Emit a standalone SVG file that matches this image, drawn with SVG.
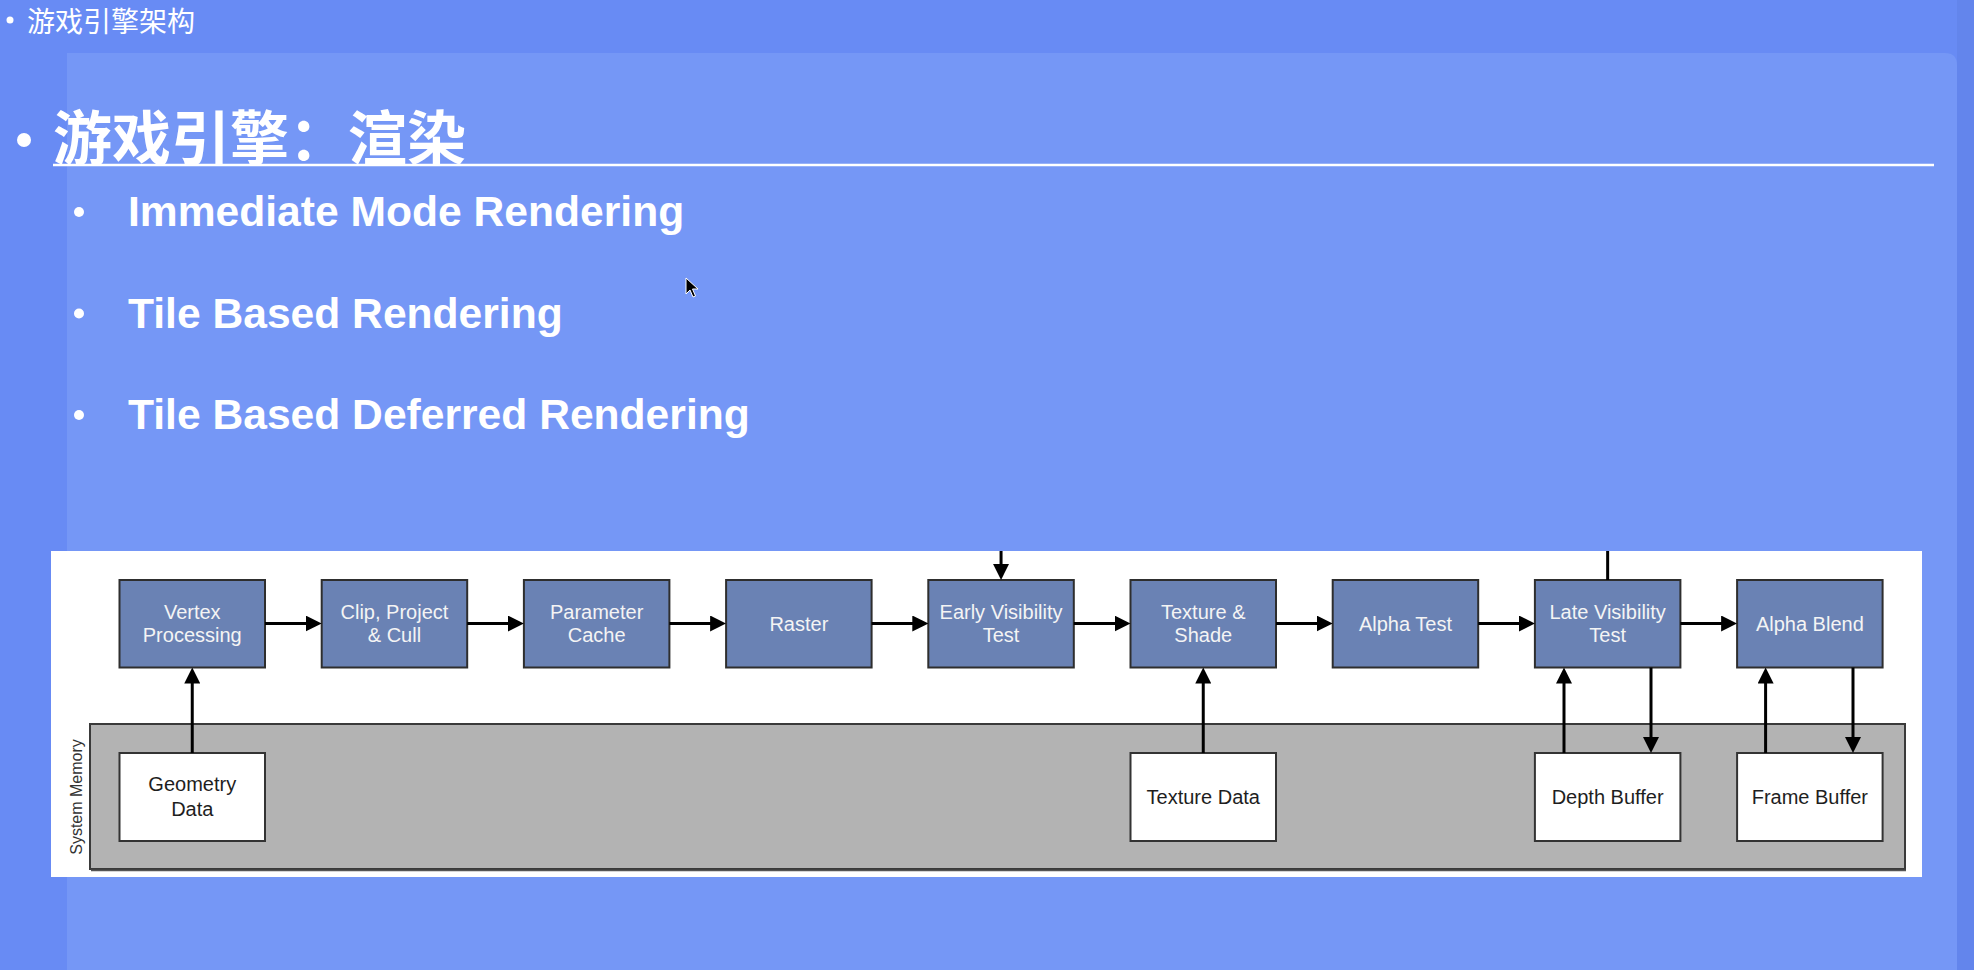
<svg xmlns="http://www.w3.org/2000/svg" width="1974" height="970" viewBox="0 0 1974 970">
  <defs>
    <marker id="arrow" viewBox="0 0 16 16" markerWidth="16" markerHeight="16" refX="5" refY="8" markerUnits="userSpaceOnUse" orient="auto">
      <path d="M0,0 L16,8 L0,16 Z" fill="#000"/>
    </marker>
    <style>
      .cjk { font-family: "Noto Sans CJK SC", "Noto Sans", sans-serif; fill: #ffffff; }
      .item { font-family: "Liberation Sans", Arial, sans-serif; font-weight: bold; font-size: 42.6px; fill: #ffffff; }
      .stage rect { fill: #6a82b4; stroke: #2e2e2e; stroke-width: 2; }
      .stage text { font-family: "Liberation Sans", Arial, sans-serif; font-size: 20px; fill: #f4f4f4; text-anchor: middle; }
      .store rect { fill: #ffffff; stroke: #333333; stroke-width: 2; }
      .store text { font-family: "Liberation Sans", Arial, sans-serif; font-size: 20px; fill: #1e1e1e; text-anchor: middle; }
      .link { stroke: #000; stroke-width: 3; fill: none; }
      .arrow { marker-end: url(#arrow); }
    </style>
  </defs>

  <!-- slide background -->
  <rect x="0" y="0" width="1974" height="970" fill="#688bf4"/>
  <path d="M67,53 H1945 Q1957,53 1957,65 V970 H67 Z" fill="#7597f6"/>
  <rect x="1957" y="0" width="17" height="970" fill="#6385ec"/>

  <!-- breadcrumb -->
  <circle cx="10" cy="20" r="3.5" fill="#ffffff"/>
  <text class="cjk" x="27" y="32" font-size="28">游戏引擎架构</text>

  <!-- slide title -->
  <line x1="53" y1="165" x2="1934" y2="165" stroke="#ffffff" stroke-width="2.5"/>
  <circle cx="24" cy="140" r="7" fill="#ffffff"/>
  <text class="cjk" x="53" y="160" font-size="59" font-weight="bold">游戏引擎：渲染</text>

  <!-- bullet list -->
  <g id="list">
    <circle cx="79" cy="212" r="5" fill="#ffffff"/>
    <text class="item" x="128" y="226">Immediate Mode Rendering</text>
    <circle cx="79" cy="313.5" r="5" fill="#ffffff"/>
    <text class="item" x="128" y="327.5">Tile Based Rendering</text>
    <circle cx="79" cy="415" r="5" fill="#ffffff"/>
    <text class="item" x="128" y="429">Tile Based Deferred Rendering</text>
  </g>

  <!-- mouse pointer -->
  <path d="M686,278 L686,294 L690,290 L693,297 L695.5,296 L692.5,289 L698,289 Z" fill="#000" stroke="#ffffff" stroke-width="1"/>

  <!-- pipeline figure -->
  <rect x="51" y="551" width="1871" height="326" fill="#ffffff"/>

  <g id="system-memory">
    <rect x="90" y="724" width="1815" height="145" fill="#b3b3b3" stroke="#3a3a3a" stroke-width="2"/>
    <line x1="91" y1="870.5" x2="1906" y2="870.5" stroke="#555" stroke-width="1.5"/>
    <text x="0" y="0" transform="translate(82,797) rotate(-90)" font-family="Liberation Sans, Arial, sans-serif" font-size="16" fill="#333" text-anchor="middle">System Memory</text>
  </g>

  <g id="vertex-processing" class="stage">
    <rect x="119.5" y="580" width="145.5" height="87.5"/>
    <text x="192.25" y="619">Vertex</text>
    <text x="192.25" y="642">Processing</text>
  </g>
  <g id="clip-project-cull" class="stage">
    <rect x="321.7" y="580" width="145.5" height="87.5"/>
    <text x="394.45" y="619">Clip, Project</text>
    <text x="394.45" y="642">&amp; Cull</text>
  </g>
  <g id="parameter-cache" class="stage">
    <rect x="523.9" y="580" width="145.5" height="87.5"/>
    <text x="596.65" y="619">Parameter</text>
    <text x="596.65" y="642">Cache</text>
  </g>
  <g id="raster" class="stage">
    <rect x="726.1" y="580" width="145.5" height="87.5"/>
    <text x="798.85" y="630.5">Raster</text>
  </g>
  <g id="early-visibility-test" class="stage">
    <rect x="928.3" y="580" width="145.5" height="87.5"/>
    <text x="1001.05" y="619">Early Visibility</text>
    <text x="1001.05" y="642">Test</text>
  </g>
  <g id="texture-shade" class="stage">
    <rect x="1130.5" y="580" width="145.5" height="87.5"/>
    <text x="1203.25" y="619">Texture &amp;</text>
    <text x="1203.25" y="642">Shade</text>
  </g>
  <g id="alpha-test" class="stage">
    <rect x="1332.7" y="580" width="145.5" height="87.5"/>
    <text x="1405.45" y="630.5">Alpha Test</text>
  </g>
  <g id="late-visibility-test" class="stage">
    <rect x="1534.9" y="580" width="145.5" height="87.5"/>
    <text x="1607.65" y="619">Late Visibility</text>
    <text x="1607.65" y="642">Test</text>
  </g>
  <g id="alpha-blend" class="stage">
    <rect x="1737.1" y="580" width="145.5" height="87.5"/>
    <text x="1809.85" y="630.5">Alpha Blend</text>
  </g>

  <g id="geometry-data" class="store">
    <rect x="119.5" y="753" width="145.5" height="88"/>
    <text x="192.25" y="791">Geometry</text>
    <text x="192.25" y="816">Data</text>
  </g>
  <g id="texture-data" class="store">
    <rect x="1130.5" y="753" width="145.5" height="88"/>
    <text x="1203.25" y="804">Texture Data</text>
  </g>
  <g id="depth-buffer" class="store">
    <rect x="1534.9" y="753" width="145.5" height="88"/>
    <text x="1607.65" y="804">Depth Buffer</text>
  </g>
  <g id="frame-buffer" class="store">
    <rect x="1737.1" y="753" width="145.5" height="88"/>
    <text x="1809.85" y="804">Frame Buffer</text>
  </g>

  <g id="connectors">
    <!-- stage to stage -->
    <line class="link arrow" x1="265" y1="623.5" x2="310.7" y2="623.5"/>
    <line class="link arrow" x1="467.2" y1="623.5" x2="512.9" y2="623.5"/>
    <line class="link arrow" x1="669.4" y1="623.5" x2="715.1" y2="623.5"/>
    <line class="link arrow" x1="871.6" y1="623.5" x2="917.3" y2="623.5"/>
    <line class="link arrow" x1="1073.8" y1="623.5" x2="1119.5" y2="623.5"/>
    <line class="link arrow" x1="1276" y1="623.5" x2="1321.7" y2="623.5"/>
    <line class="link arrow" x1="1478.2" y1="623.5" x2="1523.9" y2="623.5"/>
    <line class="link arrow" x1="1680.4" y1="623.5" x2="1726.1" y2="623.5"/>
    <!-- inputs from above -->
    <line class="link arrow" x1="1001.05" y1="551" x2="1001.05" y2="569"/>
    <line class="link" x1="1607.65" y1="551" x2="1607.65" y2="580"/>
    <!-- memory traffic -->
    <line class="link arrow" x1="192.25" y1="753" x2="192.25" y2="678.5"/>
    <line class="link arrow" x1="1203.25" y1="753" x2="1203.25" y2="678.5"/>
    <line class="link arrow" x1="1564" y1="753" x2="1564" y2="678.5"/>
    <line class="link arrow" x1="1651" y1="667.5" x2="1651" y2="742"/>
    <line class="link arrow" x1="1765.6" y1="753" x2="1765.6" y2="678.5"/>
    <line class="link arrow" x1="1853" y1="667.5" x2="1853" y2="742"/>
  </g>
</svg>
